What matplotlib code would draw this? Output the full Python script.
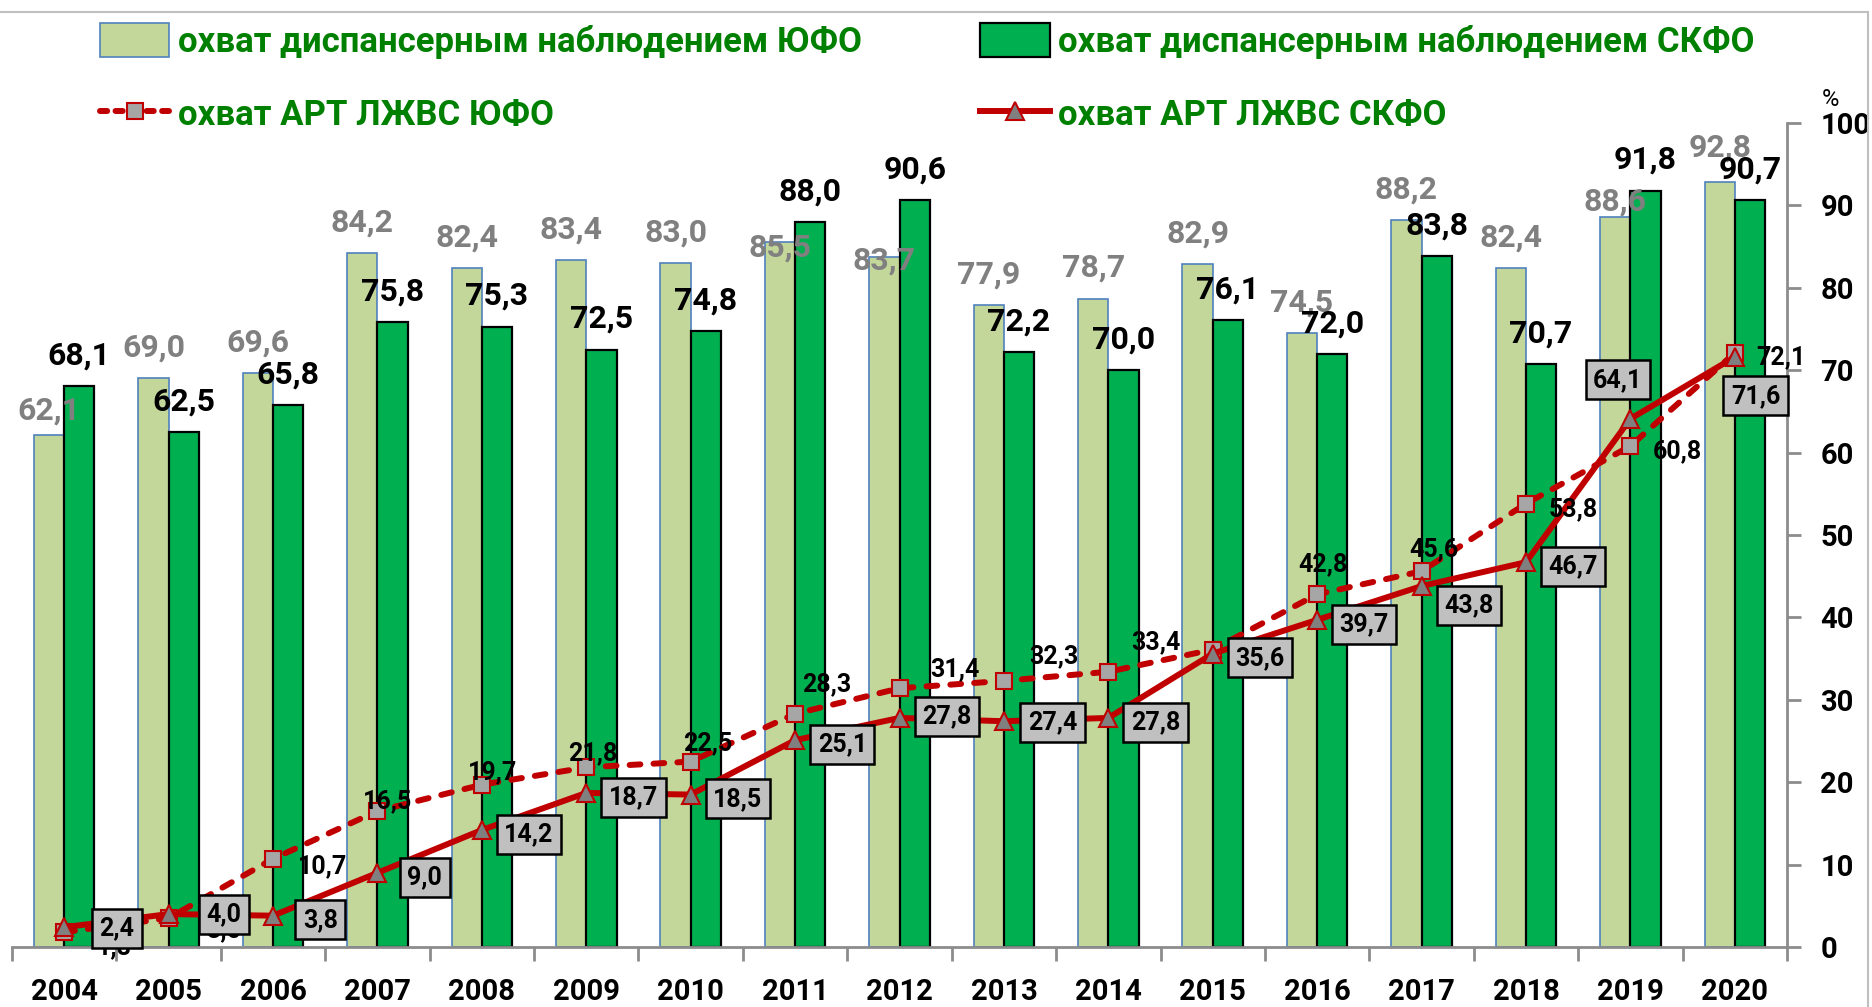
import numpy as np
import matplotlib
matplotlib.use('Agg')
import matplotlib.pyplot as plt
from matplotlib.patches import Patch
from matplotlib.lines import Line2D

plt.rcParams['font.family'] = ['Roboto', 'DejaVu Sans']

# --- data ---
years = [2004, 2005, 2006, 2007, 2008, 2009, 2010, 2011, 2012,
         2013, 2014, 2015, 2016, 2017, 2018, 2019, 2020]
disp_yufo = [62.1, 69.0, 69.6, 84.2, 82.4, 83.4, 83.0, 85.5, 83.7,
             77.9, 78.7, 82.9, 74.5, 88.2, 82.4, 88.6, 92.8]
disp_skfo = [68.1, 62.5, 65.8, 75.8, 75.3, 72.5, 74.8, 88.0, 90.6,
             72.2, 70.0, 76.1, 72.0, 83.8, 70.7, 91.8, 90.7]
art_yufo = [1.8, 3.5, 10.7, 16.5, 19.7, 21.8, 22.5, 28.3, 31.4,
            32.3, 33.4, 36.1, 42.8, 45.6, 53.8, 60.8, 72.1]
art_skfo = [2.4, 4.0, 3.8, 9.0, 14.2, 18.7, 18.5, 25.1, 27.8,
            27.4, 27.8, 35.6, 39.7, 43.8, 46.7, 64.1, 71.6]

legend_labels = ['охват диспансерным наблюдением ЮФО',
                 'охват АРТ ЛЖВС ЮФО',
                 'охват диспансерным наблюдением СКФО',
                 'охват АРТ ЛЖВС СКФО']

# label placement tweaks (points), as in the original layout
bar_yufo_dy = {2004: 18, 2011: -4, 2012: -2, 2019: 11, 2020: 25}
art_yufo_off = {2004: (36, -11), 2005: (40, -9), 2006: (36, -5), 2007: (7, 7),
                2008: (8, 9), 2009: (5, 10), 2010: (12, 13), 2011: (23, 21),
                2012: (40, 14), 2013: (36, 18), 2014: (34, 21), 2016: (4, 22),
                2017: (9, 16), 2018: (34, -4), 2019: (34, -4), 2020: (33, -3)}
art_skfo_off = {2004: (38, -1), 2005: (40, 0), 2012: (34, 1), 2013: (35, -1),
                2017: (34, -14), 2019: (-9, 28), 2020: (15, -28)}

LIGHT = '#C4D79B'
GREEN = '#00B050'
RED = '#C00000'
GREY_MK = '#A6A6A6'
LEG_GREEN = '#008000'
AXIS_GREY = '#8C8C8C'
LW = 4.3


def fmt(v):
    return f'{v:.1f}'.replace('.', ',')


fig = plt.figure(figsize=(18.72, 10.07), dpi=100)
ax = fig.add_axes([12 / 1872, 1 - 947 / 1007, (1787 - 12) / 1872, (947 - 123) / 1007])

x = np.arange(len(years))
w = 0.29
ax.bar(x - w / 2, disp_yufo, w, color=LIGHT, edgecolor='#4F81BD', linewidth=1.2, zorder=2)
ax.bar(x + w / 2, disp_skfo, w, color=GREEN, edgecolor='black', linewidth=1.6, zorder=2)

ax.plot(x, art_yufo, color=RED, lw=LW, dashes=(1.8, 2.2), dash_capstyle='round',
        marker='s', ms=12, mfc=GREY_MK, mec=RED, mew=1.5, zorder=3)
ax.plot(x, art_skfo, color=RED, lw=LW, marker='^', ms=13, mfc='#808080',
        mec=RED, mew=1.5, zorder=4)

# bar value labels
for i, yr in enumerate(years):
    ax.annotate(fmt(disp_yufo[i]), (x[i] - w / 2, disp_yufo[i]), xytext=(0, bar_yufo_dy.get(yr, 22)),
                textcoords='offset points', ha='center', va='center', fontsize=23,
                fontweight='bold', color='#808080', zorder=6)
    ax.annotate(fmt(disp_skfo[i]), (x[i] + w / 2, disp_skfo[i]), xytext=(0, 22),
                textcoords='offset points', ha='center', va='center', fontsize=23,
                fontweight='bold', color='black', zorder=6)

# line value labels
for i, yr in enumerate(years):
    if yr in art_yufo_off:
        ax.annotate(fmt(art_yufo[i]), (x[i], art_yufo[i]), xytext=art_yufo_off[yr],
                    textcoords='offset points', ha='center', va='center', fontsize=18,
                    fontweight='bold', color='black', zorder=5)
    ax.annotate(fmt(art_skfo[i]), (x[i], art_skfo[i]), xytext=art_skfo_off.get(yr, (34, -3)),
                textcoords='offset points', ha='center', va='center', fontsize=18,
                fontweight='bold', color='black', zorder=7,
                bbox=dict(boxstyle='square,pad=0.3', fc='#C0C0C0', ec='black', lw=1.8))

ax.set_xlim(-0.5, len(years) - 0.5)
ax.set_ylim(0, 100)

# axes styling
for s in ['left', 'top']:
    ax.spines[s].set_visible(False)
ax.spines['bottom'].set_color(AXIS_GREY)
ax.spines['bottom'].set_linewidth(2)
ax.spines['right'].set_color(AXIS_GREY)
ax.spines['right'].set_linewidth(2)

ax.set_xticks(x)
ax.set_xticklabels([str(y) for y in years], fontsize=21, fontweight='bold')
ax.set_xticks(np.arange(-0.5, len(years)), minor=True)
ax.tick_params(axis='x', which='major', length=0, pad=22)
ax.tick_params(axis='x', which='minor', length=10, width=2, color=AXIS_GREY, direction='out')

ax.yaxis.tick_right()
ax.set_yticks(np.arange(0, 101, 10))
ax.set_yticklabels([str(v) for v in range(0, 101, 10)], fontsize=21, fontweight='bold')
ax.tick_params(axis='y', which='major', length=10, width=2, color=AXIS_GREY, pad=14)
fig.text(1830 / 1872, 1 - 100 / 1007, '%', fontsize=17, ha='center', va='center')

# chart border (top and right edges)
fig.add_artist(Line2D([0, 1868 / 1872], [1 - 12 / 1007, 1 - 12 / 1007],
                      transform=fig.transFigure, color='#BFBFBF', lw=1.5))
fig.add_artist(Line2D([1868 / 1872, 1868 / 1872], [1 - 12 / 1007, 0],
                      transform=fig.transFigure, color='#BFBFBF', lw=1.5))

# legend
handles = [
    Patch(facecolor=LIGHT, edgecolor='#4F81BD', lw=1.2),
    Line2D([], [], color=RED, lw=LW, dashes=(1.2, 1.4), dash_capstyle='round',
           marker='s', ms=12, mfc=GREY_MK, mec=RED, mew=1.5),
    Patch(facecolor=GREEN, edgecolor='black', lw=1.6),
    Line2D([], [], color=RED, lw=LW, marker='^', ms=13, mfc='#808080', mec=RED, mew=1.5),
]
leg = fig.legend(handles, legend_labels, loc='upper left', bbox_to_anchor=(100 / 1872, 1 - 23 / 1007),
                 ncol=2, frameon=False, handlelength=2.0, handleheight=1.12,
                 handletextpad=0.25, labelspacing=1.08, columnspacing=3.4,
                 borderpad=0, borderaxespad=0, prop={'weight': 'bold', 'size': 25})
for t in leg.get_texts():
    t.set_color(LEG_GREEN)

fig.savefig('out.png', dpi=100)
